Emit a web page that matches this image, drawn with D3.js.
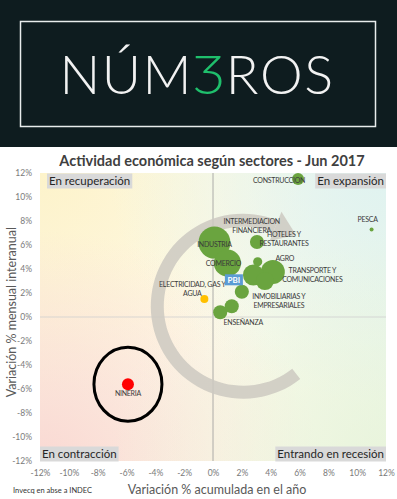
<!DOCTYPE html>
<html lang="es">
<head>
<meta charset="utf-8">
<title>Actividad económica según sectores</title>
<script src="https://d3js.org/d3.v7.min.js"></script>
<style>
  body { margin: 0; background: #fff; }
  svg { display: block; }
  text { font-family: Lato, "Open Sans", sans-serif; }
</style>
</head>
<body>
<script>
// datos (lectura aproximada del gráfico)
var sectores = ["INDUSTRIA", "COMERCIO", "AGRO", "TRANSPORTE", "ADM. PUBLICA", "HOTELES", "INMOBILIARIAS",
  "ENSEÑANZA", "SALUD", "CONSTRUCCION", "MINERIA", "INTERMEDIACION", "ELECTRICIDAD", "PESCA"];
var acumulada = [0.1, 1.0, 4.15, 2.8, 3.6, 3.05, 2.0, 0.5, 1.3, 5.9, -5.9, 3.1, -0.6, 11.0];
var interanual = [6.2, 4.5, 3.75, 3.5, 3.0, 6.25, 2.1, 0.4, 0.9, 11.5, -5.6, 4.6, 1.5, 7.3];
var peso = [16, 11.5, 9, 6.8, 5.1, 3.1, 3.1, 3.1, 3.1, 2.25, 2.25, 1.3, 1, 0.25];
var etiquetas = [["INDUSTRIA"], ["COMERCIO"], ["AGRO"], ["TRANSPORTE Y", "COMUNICACIONES"], [],
  ["HOTELES Y", "RESTAURANTES"], ["INMOBILIARIAS Y", "EMPRESARIALES"], ["ENSEÑANZA"], [],
  ["CONSTRUCCION"], ["NINERIA"], ["INTERMEDIACION", "FINANCIERA"], ["ELECTRICIDAD, GAS Y", "AGUA"], ["PESCA"]];
var pbi = [1.45, 3.1];
var ticks = [-12, -10, -8, -6, -4, -2, 0, 2, 4, 6, 8, 10, 12];
var cuadrantes = ["En recuperación", "En expansión", "En contracción", "Entrando en recesión"];

// desplazamiento de etiquetas en px respecto de cada burbuja
var labelOff = {
  "INDUSTRIA": [0, 2], "COMERCIO": [-4, 0], "AGRO": [12, -14], "TRANSPORTE": [59, 0],
  "HOTELES": [27, -3], "INMOBILIARIAS": [37, 9], "ENSEÑANZA": [23, 10], "CONSTRUCCION": [-19, 1],
  "MINERIA": [0, 9], "INTERMEDIACION": [-6, -36], "ELECTRICIDAD": [-12, -10], "PESCA": [-4, -10]
};

var W = 397, H = 499;
var svg = d3.select("body").append("svg").attr("width", W).attr("height", H);

// cabecera
svg.append("rect").attr("x", 0).attr("y", 0).attr("width", W).attr("height", 147).attr("fill", "#0e1c1f");
svg.append("rect").attr("x", 20.5).attr("y", 21.5).attr("width", 355).attr("height", 105)
  .attr("fill", "none").attr("stroke", "#e8ecec").attr("stroke-width", 1.5);
var logo = svg.append("text").attr("x", 197).attr("y", 94).attr("text-anchor", "middle")
  .attr("font-size", 54).attr("font-weight", 300).attr("letter-spacing", 1.5).attr("fill", "#f2f2f2");
logo.append("tspan").text("NÚM");
logo.append("tspan").attr("fill", "#1fbf6c").text("Ʒ");
logo.append("tspan").text("ROS");

// escalas
var x = d3.scaleLinear().domain([-12, 12]).range([40, 386]);
var y = d3.scaleLinear().domain([-12, 12]).range([461, 173]);
var r = d3.scaleSqrt().domain([0, 16]).range([0, 16]);

// fondo del área
var defs = svg.append("defs");
var g1 = defs.append("linearGradient").attr("id", "bg").attr("x1", 0).attr("y1", 0).attr("x2", 1).attr("y2", 0);
g1.append("stop").attr("offset", 0).attr("stop-color", "#fdf5e2");
g1.append("stop").attr("offset", 0.5).attr("stop-color", "#fffcec");
g1.append("stop").attr("offset", 1).attr("stop-color", "#eef7ea");
function radial(id, cx, cy, col, op) {
  var g = defs.append("radialGradient").attr("id", id).attr("cx", cx).attr("cy", cy).attr("r", 0.8);
  g.append("stop").attr("offset", 0).attr("stop-color", col).attr("stop-opacity", op);
  g.append("stop").attr("offset", 1).attr("stop-color", col).attr("stop-opacity", 0);
}
radial("bl", 0, 1, "#f9d6d2", 0.9);
radial("tr", 1, 0, "#def2f1", 0.9);
radial("tl", 0, 0, "#fdf3c8", 0.9);
radial("br", 1, 1, "#e6f3d6", 0.7);
["bg", "tl", "tr", "bl", "br"].forEach(function(id) {
  svg.append("rect").attr("x", x(-12)).attr("y", y(12)).attr("width", x(12) - x(-12))
    .attr("height", y(-12) - y(12)).attr("fill", "url(#" + id + ")");
});

// título
svg.append("text").attr("x", 212).attr("y", 166).attr("text-anchor", "middle")
  .attr("font-size", 14.5).attr("font-weight", "bold").attr("fill", "#3f3f3f")
  .text("Actividad económica según sectores - Jun 2017");

// ejes
var xAxis = svg.append("g").attr("transform", "translate(0," + y(-12) + ")")
  .call(d3.axisBottom(x).tickValues(ticks).tickSize(0).tickPadding(9).tickFormat(function(d) { return d + "%"; }));
var yAxis = svg.append("g").attr("transform", "translate(" + x(-12) + ",0)")
  .call(d3.axisLeft(y).tickValues(ticks).tickSize(0).tickPadding(8).tickFormat(function(d) { return d + "%"; }));
[xAxis, yAxis].forEach(function(a) {
  a.select(".domain").remove();
  a.selectAll("text").attr("font-family", "Lato, sans-serif").attr("font-size", 8.5).attr("fill", "#7a7a7a");
});

// líneas de cero
svg.append("line").attr("x1", x(0)).attr("x2", x(0)).attr("y1", y(12)).attr("y2", y(-12))
  .attr("stroke", "#9a9a9a").attr("stroke-width", 0.8);
svg.append("line").attr("x1", x(-12)).attr("x2", x(12)).attr("y1", y(0)).attr("y2", y(0))
  .attr("stroke", "#cfcfcf").attr("stroke-width", 0.8);

// flecha circular
var cx = x(2.1), cy = y(0.9), R = 86;
var arc = d3.arc().innerRadius(R - 6.5).outerRadius(R + 6.5)
  .startAngle(142 * Math.PI / 180).endAngle(382 * Math.PI / 180);
svg.append("path").attr("d", arc()).attr("transform", "translate(" + cx + "," + cy + ")")
  .attr("fill", "#cdc9c1").attr("opacity", 0.85);
var ea = 382 * Math.PI / 180;
function pt(rad, a) { return [cx + rad * Math.sin(a), cy - rad * Math.cos(a)]; }
var tip = pt(R, ea); tip = [tip[0] + 22 * Math.cos(ea), tip[1] + 22 * Math.sin(ea)];
svg.append("path").attr("d", "M" + pt(R - 16, ea) + "L" + pt(R + 16, ea) + "L" + tip + "Z")
  .attr("fill", "#cdc9c1").attr("opacity", 0.85);

// burbujas
var data = sectores.map(function(s, i) {
  return { s: s, x: acumulada[i], y: interanual[i], p: peso[i], lab: etiquetas[i] };
});
var color = function(s) { return s == "MINERIA" ? "#ff0000" : s == "ELECTRICIDAD" ? "#ffc000" : "#6aa43f"; };
svg.selectAll("circle.b").data(data).enter().append("circle").attr("class", "b")
  .attr("cx", function(d) { return x(d.x); }).attr("cy", function(d) { return y(d.y); })
  .attr("r", function(d) { return r(d.p); }).attr("fill", function(d) { return color(d.s); });

// círculo negro alrededor de minería
svg.append("ellipse").attr("cx", x(-5.9)).attr("cy", y(-5.6)).attr("rx", 34).attr("ry", 37)
  .attr("fill", "none").attr("stroke", "#000").attr("stroke-width", 3);

// etiquetas
data.forEach(function(d) {
  if (!d.lab.length) return;
  var o = labelOff[d.s];
  var t = svg.append("text").attr("text-anchor", "middle").attr("font-size", 7)
    .attr("letter-spacing", -0.25).attr("fill", "#3a3a3a");
  d.lab.forEach(function(l, k) {
    t.append("tspan").attr("x", x(d.x) + o[0])
      .attr("y", y(d.y) + o[1] + 2.5 + k * 9.5 - (d.lab.length - 1) * 4.75).text(l);
  });
});

// PBI
var pb = svg.append("g").attr("transform", "translate(" + x(pbi[0]) + "," + y(pbi[1]) + ")");
pb.append("rect").attr("x", -9).attr("y", -5.5).attr("width", 18).attr("height", 11).attr("fill", "#5b9bd5");
pb.append("text").attr("text-anchor", "middle").attr("y", 3).attr("font-size", 8)
  .attr("font-weight", "bold").attr("fill", "#fff").text("PBI");

// cuadrantes
function cuad(txt, xx, yy, anchor) {
  var t = svg.append("text").attr("font-size", 11.5).attr("fill", "#262626").text(txt)
    .attr("text-anchor", anchor).attr("x", xx).attr("y", yy);
  var b = t.node().getBBox();
  svg.insert("rect", function() { return t.node(); }).attr("x", b.x - 2).attr("y", yy - 11.5)
    .attr("width", b.width + 4).attr("height", 15).attr("fill", "#d9d9d9");
}
cuad(cuadrantes[0], x(-12) + 9, y(12) + 12, "start");
cuad(cuadrantes[1], x(12) - 2, y(12) + 12, "end");
cuad(cuadrantes[2], x(-12) + 2, y(-12) - 3, "start");
cuad(cuadrantes[3], x(12) - 2, y(-12) - 3, "end");

// títulos de ejes
svg.append("text").attr("transform", "translate(16," + y(0.4) + ") rotate(-90)").attr("text-anchor", "middle")
  .attr("font-size", 12.5).attr("fill", "#595959").text("Variación % mensual interanual");
svg.append("text").attr("x", 217).attr("y", 494).attr("text-anchor", "middle")
  .attr("font-size", 12.5).attr("fill", "#595959").text("Variación % acumulada en el año");
svg.append("text").attr("x", 13).attr("y", 493).attr("font-size", 7.5).attr("fill", "#333")
  .text("Invecq en abse a INDEC");
</script>
</body>
</html>
